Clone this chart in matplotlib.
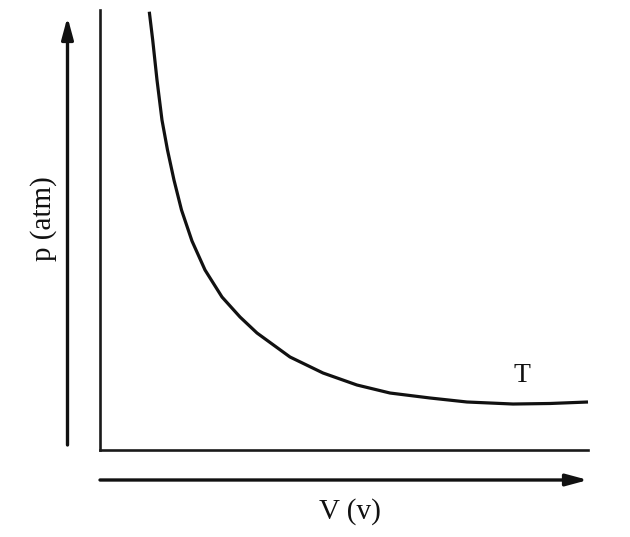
import matplotlib
matplotlib.use("Agg")
import matplotlib.pyplot as plt
from matplotlib.patches import FancyArrowPatch

plt.rcParams['font.family'] = ['Liberation Serif', 'DejaVu Serif']

# Isotherm (V arbitrary units, p arbitrary units)
volume = [1.010, 1.080, 1.168, 1.270, 1.383, 1.516, 1.670, 1.885, 2.152, 2.500,
          2.869, 3.217, 3.893, 4.570, 5.266, 5.943, 6.762, 7.520, 8.463, 9.221, 10.0]
pressure = [9.961, 9.318, 8.409, 7.500, 6.818, 6.136, 5.455, 4.750, 4.091, 3.477,
            3.023, 2.659, 2.114, 1.750, 1.477, 1.295, 1.182, 1.091, 1.045, 1.057, 1.091]
curve_label = "T"
x_label = "V (v)"
y_label = "p (atm)"

W, H = 630, 537
fig = plt.figure(figsize=(W / 100, H / 100), dpi=100)
fig.patch.set_facecolor("white")

left, right, top, bottom = 100, 588, 10, 450
ax = fig.add_axes([left / W, (H - bottom) / H, (right - left) / W, (bottom - top) / H])
ax.set_xlim(0, 10)
ax.set_ylim(0, 10)
for s in ("top", "right"):
    ax.spines[s].set_visible(False)
for s in ("left", "bottom"):
    ax.spines[s].set_linewidth(1.9)
    ax.spines[s].set_color("#1a1a1a")
ax.set_xticks([])
ax.set_yticks([])
ax.patch.set_alpha(0)

ax.plot(volume, pressure, color="#111111", lw=2.3, solid_joinstyle="round",
        solid_capstyle="butt", clip_on=False)

ax.text(8.65, 1.7, curve_label, fontsize=20, ha="center", va="center", color="#111111")

# Arrows in figure coordinates
arrow_kw = dict(arrowstyle="-|>,head_length=1.0,head_width=0.27", color="#111111",
                lw=2.4, shrinkA=0, shrinkB=0, mutation_scale=13)
fig.add_artist(FancyArrowPatch(
    (100 / W, (H - 480) / H), (588 / W, (H - 480) / H),
    transform=fig.transFigure, **arrow_kw))
fig.add_artist(FancyArrowPatch(
    (67.5 / W, (H - 445) / H), (67.5 / W, (H - 17) / H),
    transform=fig.transFigure, **arrow_kw))

fig.text(350 / W, (H - 512) / H, x_label, fontsize=21, ha="center", va="center",
         color="#111111")
fig.text(44 / W, (H - 219) / H, y_label, fontsize=21, ha="center", va="center",
         rotation=90, color="#111111")

fig.savefig("out.png", dpi=100, facecolor="white")
